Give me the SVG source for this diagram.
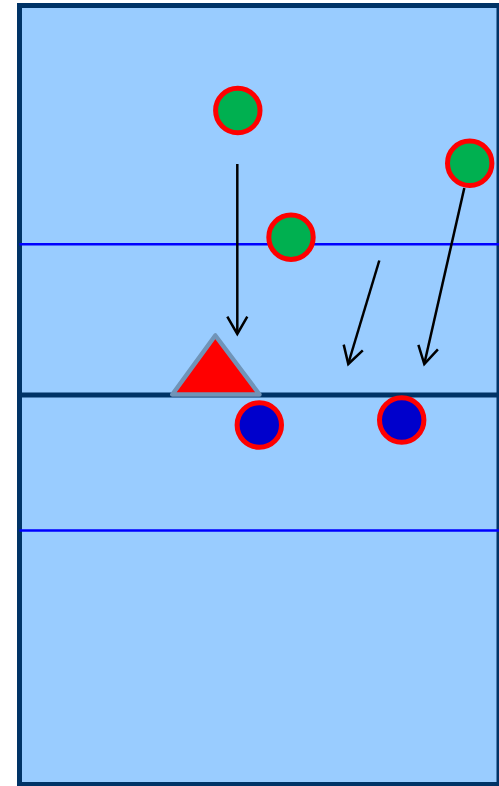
<svg xmlns="http://www.w3.org/2000/svg" width="499" height="786" viewBox="0 0 499 786">
<style>
.court{fill:#99ccff;stroke:#003366;stroke-width:5}
.net{stroke:#003366;stroke-width:5}
.att{stroke:#0000ff;stroke-width:2.5}
.green{fill:#00b050;stroke:#ff0000;stroke-width:5}
.blue{fill:#0000cc;stroke:#ff0000;stroke-width:5}
.mv{stroke:#000;stroke-width:2.5;fill:none}
.head{stroke:#000;stroke-width:2.5;fill:none;stroke-linejoin:miter}
</style>
<g id="court">
<rect class="court" x="19.5" y="5.5" width="479.5" height="779"/>
<line class="att" x1="19.5" y1="244.3" x2="499" y2="244.3"/>
<line class="att" x1="19.5" y1="530.5" x2="499" y2="530.5"/>
<line class="net" x1="19.5" y1="395" x2="499" y2="395"/>
</g>
<g id="connectors">
<line class="mv" x1="237.3" y1="164" x2="237.3" y2="332"/>
<polyline class="head" points="227.3,316.7 237.3,334 247.3,316.7"/>
<line class="mv" x1="379.3" y1="260.5" x2="348.6" y2="362.5"/>
<polyline class="head" points="343.7,344.6 348.3,364 362.8,350.3"/>
<line class="mv" x1="464.3" y1="188" x2="424.6" y2="362.5"/>
<polyline class="head" points="418.4,344.9 424.3,364 437.9,349.4"/>
</g>
<g id="p1"><circle class="green" cx="237.8" cy="110.5" r="22.2"/></g>
<g id="p2"><circle class="green" cx="291" cy="237.3" r="22.2"/></g>
<g id="p3"><circle class="green" cx="469.7" cy="163.3" r="22.2"/></g>
<g id="setter"><polygon points="215.3,335.5 172.3,394.5 259.5,394.5" fill="#ff0000" stroke="#7094b8" stroke-width="4.5" stroke-linejoin="round"/></g>
<g id="b1"><circle class="blue" cx="259.3" cy="425" r="22.2"/></g>
<g id="b2"><circle class="blue" cx="401.7" cy="420" r="22.2"/></g>
</svg>
